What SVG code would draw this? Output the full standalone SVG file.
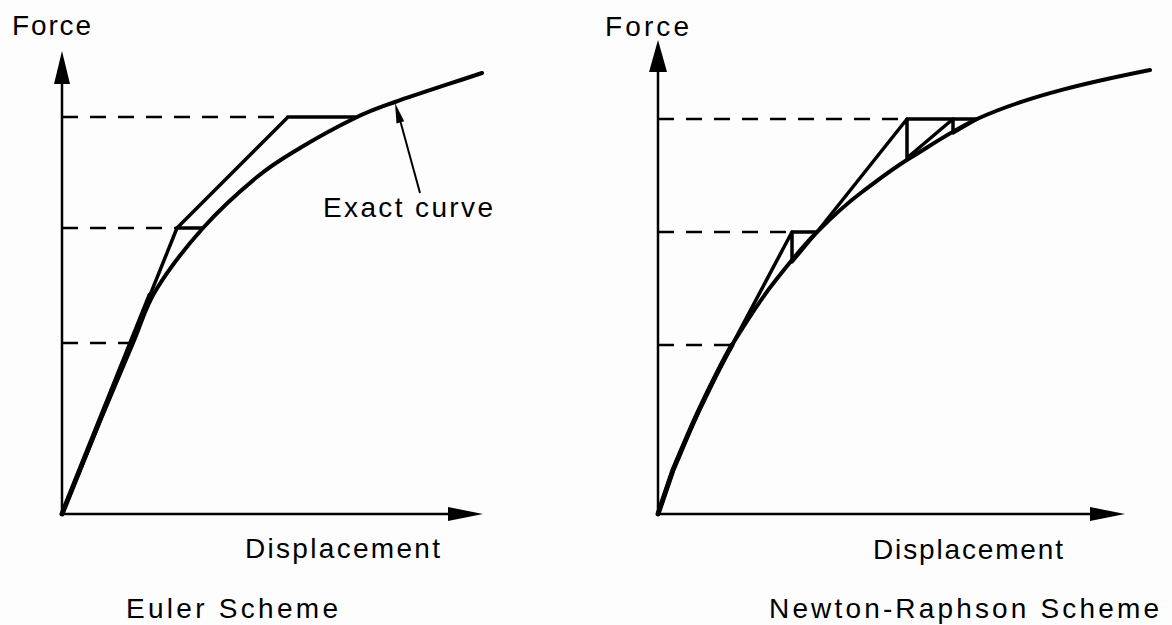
<svg xmlns="http://www.w3.org/2000/svg" width="1172" height="625" viewBox="0 0 1172 625">
<style>
.bg{fill:#fdfdfd}
.axis{stroke:#000;stroke-width:2.5;fill:none}
.head{fill:#000;stroke:none}
.curve{stroke:#000;stroke-width:4;fill:none;stroke-linecap:round;stroke-linejoin:round}
.step{stroke:#000;stroke-width:3.5;fill:none;stroke-linecap:round;stroke-linejoin:round}
.thick{stroke:#000;stroke-width:5;fill:none;stroke-linecap:round}
.dash{stroke:#000;stroke-width:2.5;fill:none;stroke-dasharray:16 12}
.ptr{stroke:#000;stroke-width:2;fill:none}
.lbl{font-family:"Liberation Sans","DejaVu Sans",sans-serif;font-size:28px;fill:#000}
</style>
<rect class="bg" x="0" y="0" width="1172" height="625"/>

<g id="euler-chart">
  <g id="euler-axes">
    <line class="axis" x1="62" y1="514" x2="62" y2="80"/>
    <polygon class="head" points="62,51 54,84 70,84"/>
    <line class="axis" x1="62" y1="514" x2="452" y2="514"/>
    <polygon class="head" points="483,514 448,507 448,521"/>
  </g>
  <g id="euler-levels">
    <line class="dash" x1="62" y1="117" x2="288" y2="117"/>
    <line class="dash" x1="62" y1="228" x2="177" y2="228"/>
    <line class="dash" x1="62" y1="343" x2="133" y2="343"/>
  </g>
  <path id="euler-exact-curve" class="curve" d="M62,514 C74.7,483 88.2,449.5 100,421 C111.8,392.5 123.7,364.8 133,343 C142.3,321.2 144.3,309.2 156,290 C167.7,270.8 186.2,246.8 203,228 C219.8,209.2 240.8,190.3 257,177 C273.2,163.7 283.7,157.8 300,148 C316.3,138.2 339.2,125.7 355,118 C370.8,110.3 373.8,109.5 395,102 C416.2,94.5 453,82.7 482,73"/>
  <g id="euler-steps">
    <line class="thick" x1="62" y1="514" x2="150" y2="295"/>
    <polyline class="step" points="62,514 177,228 288,117 355,117"/>
    <line class="step" x1="177" y1="228" x2="203" y2="228"/>
  </g>
  <g id="exact-curve-label">
    <line class="ptr" x1="420" y1="193" x2="400" y2="120"/>
    <polygon class="head" points="395,103 404.2,121.2 396.5,123.4"/>
    <text class="lbl" x="323" y="217" textLength="170" lengthAdjust="spacing">Exact curve</text>
  </g>
  <text id="euler-force" class="lbl" x="12" y="35" textLength="79" lengthAdjust="spacing">Force</text>
  <text id="euler-displacement" class="lbl" x="245" y="558" textLength="195" lengthAdjust="spacing">Displacement</text>
  <text id="euler-title" class="lbl" x="126" y="618" textLength="212" lengthAdjust="spacing">Euler Scheme</text>
</g>

<g id="newton-chart">
  <g id="newton-axes">
    <line class="axis" x1="658" y1="514" x2="658" y2="68"/>
    <polygon class="head" points="658,40 649,72 667,72"/>
    <line class="axis" x1="658" y1="514" x2="1094" y2="514"/>
    <polygon class="head" points="1125,514 1090,507 1090,521"/>
  </g>
  <g id="newton-levels">
    <line class="dash" x1="658" y1="119" x2="907" y2="119"/>
    <line class="dash" x1="658" y1="232" x2="792" y2="232"/>
    <line class="dash" x1="658" y1="345" x2="732" y2="345"/>
  </g>
  <path id="newton-exact-curve" class="curve" d="M658,514 L673,470 C682,449 690,429 700,408 C710,387 720,366 732,345 C745,324 758,303 772,285 C786,267 801,248 817,232 C832,217 846,204 862,192 C878,180 892,169 910,158 C930,146 953,130 977,119 C1030,95 1095,81 1150,70"/>
  <g id="newton-steps">
    <path class="thick" d="M658,514 L673,470 C682,449 690,429 700,408 C710,387 720,366 732,345"/>
    <polyline class="step" points="732,345 792,232 792,262 817,232"/>
    <polyline class="step" points="792,232 817,232 907,119 907,158 953,119 953,133 977,119"/>
    <line class="step" x1="907" y1="119" x2="977" y2="119"/>
  </g>
  <text id="newton-force" class="lbl" x="605" y="36" textLength="84" lengthAdjust="spacing">Force</text>
  <text id="newton-displacement" class="lbl" x="873" y="559" textLength="190" lengthAdjust="spacing">Displacement</text>
  <text id="newton-title" class="lbl" x="769" y="618" textLength="390" lengthAdjust="spacing">Newton-Raphson Scheme</text>
</g>
</svg>
